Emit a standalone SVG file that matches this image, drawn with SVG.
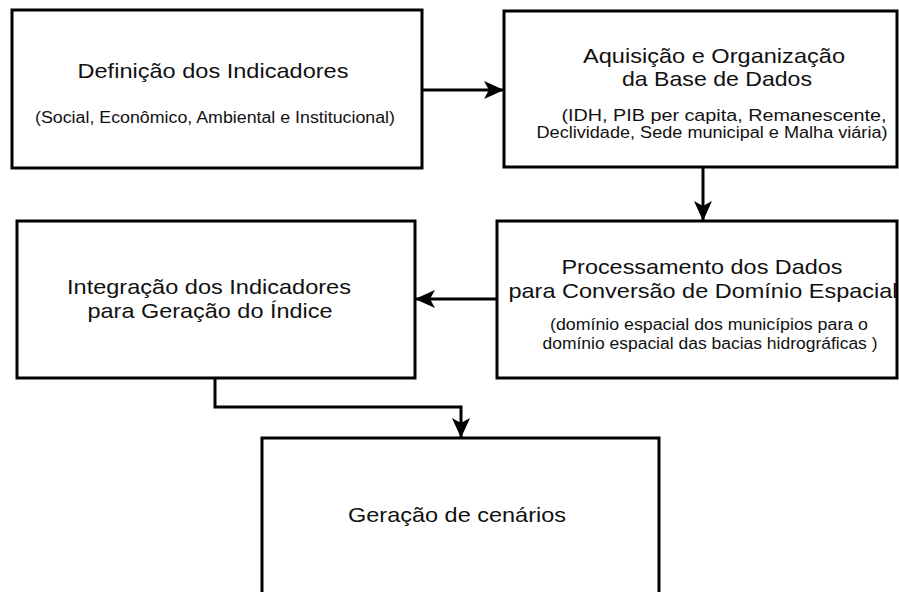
<svg xmlns="http://www.w3.org/2000/svg" width="899" height="592" viewBox="0 0 899 592">
<defs>
<marker id="ah" viewBox="0 0 20 20" refX="19" refY="10" markerWidth="20" markerHeight="20" markerUnits="userSpaceOnUse" orient="auto">
<path d="M0,1 L20,10 L0,19 L5,10 Z" fill="#000"/>
</marker>
<style>
.box{fill:#fff;stroke:#000;stroke-width:3}
.t{font-family:"Liberation Sans",Arial,sans-serif;font-size:21px;fill:#111;text-anchor:middle}
.s{font-family:"Liberation Sans",Arial,sans-serif;font-size:16px;fill:#111;text-anchor:middle}
.c{fill:none;stroke:#000;stroke-width:3}
</style>
</defs>
<rect width="899" height="592" fill="#fff"/>
<g id="n1">
<rect class="box" x="12" y="10" width="410" height="158"/>
<text class="t" x="213" y="78" textLength="271" lengthAdjust="spacingAndGlyphs">Definição dos Indicadores</text>
<text class="s" x="215" y="123" textLength="360" lengthAdjust="spacingAndGlyphs">(Social, Econômico, Ambiental e Institucional)</text>
</g>
<g id="n2">
<rect class="box" x="504" y="11" width="393" height="156"/>
<text class="t" x="714" y="63" textLength="262" lengthAdjust="spacingAndGlyphs">Aquisição e Organização</text>
<text class="t" x="717" y="86" textLength="190" lengthAdjust="spacingAndGlyphs">da Base de Dados</text>
<text class="s" x="724" y="121" textLength="325" lengthAdjust="spacingAndGlyphs">(IDH, PIB per capita, Remanescente,</text>
<text class="s" x="712" y="138" textLength="351" lengthAdjust="spacingAndGlyphs">Declividade, Sede municipal e Malha viária)</text>
</g>
<g id="n3">
<rect class="box" x="497" y="221" width="400" height="157"/>
<text class="t" x="702" y="274" textLength="281" lengthAdjust="spacingAndGlyphs">Processamento dos Dados</text>
<text class="t" x="703" y="298" textLength="389" lengthAdjust="spacingAndGlyphs">para Conversão de Domínio Espacial</text>
<text class="s" x="709" y="330" textLength="318" lengthAdjust="spacingAndGlyphs">(domínio espacial dos municípios para o</text>
<text class="s" x="710" y="349" textLength="335" lengthAdjust="spacingAndGlyphs">domínio espacial das bacias hidrográficas )</text>
</g>
<g id="n4">
<rect class="box" x="17" y="221" width="398" height="157"/>
<text class="t" x="209" y="294" textLength="284" lengthAdjust="spacingAndGlyphs">Integração dos Indicadores</text>
<text class="t" x="210" y="318" textLength="245" lengthAdjust="spacingAndGlyphs">para Geração do Índice</text>
</g>
<g id="n5">
<rect class="box" x="262" y="438" width="397" height="170"/>
<text class="t" x="457" y="522" textLength="218" lengthAdjust="spacingAndGlyphs">Geração de cenários</text>
</g>
<g id="connectors">
<path class="c" d="M422,90 L503,90" marker-end="url(#ah)"/>
<path class="c" d="M703,167 L703,220" marker-end="url(#ah)"/>
<path class="c" d="M497,299 L416,299" marker-end="url(#ah)"/>
<path class="c" d="M215,378 L215,407 L461,407 L461,437" marker-end="url(#ah)"/>
</g>
</svg>
